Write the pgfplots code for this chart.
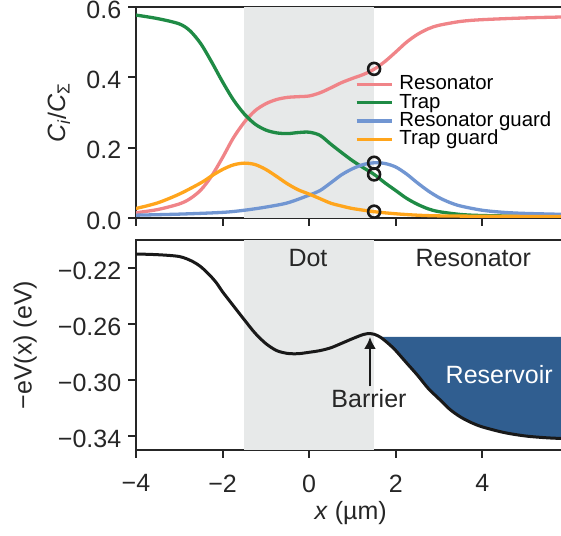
\documentclass[border=0pt]{standalone}
\usepackage{fontspec}
\setmainfont{Liberation Sans}
\usepackage{pgfplots}
\pgfplotsset{compat=1.18}
\usetikzlibrary{arrows.meta}

\definecolor{cres}{HTML}{F08488}
\definecolor{ctrap}{HTML}{1F8B45}
\definecolor{crg}{HTML}{7196D2}
\definecolor{ctg}{HTML}{FFA51C}
\definecolor{cfill}{HTML}{305E90}
\definecolor{cshade}{HTML}{E7E9E9}
\definecolor{cax}{HTML}{262626}

\newcommand{\bigf}{\fontsize{12.5}{15}\selectfont}
\newcommand{\legf}{\fontsize{10.2}{11}\selectfont}

\pgfplotsset{
  myaxis/.style={
    scale only axis, width=216.45pt,
    xmin=-4, xmax=6,
    xtick={-4,-2,0,2,4},
    tick align=outside, major tick length=3.85pt,
    xtick pos=left, ytick pos=left,
    axis line style={cax, line width=1pt},
    every tick/.style={cax, line width=1pt},
    tick label style={font=\bigf, text=cax},
    yticklabel style={yshift=-1.3pt},
    xticklabel style={yshift=-5pt},
    label style={font=\bigf, text=cax},
  }
}

\begin{document}
\begin{tikzpicture}
% ---------------- top axis ----------------
\begin{axis}[myaxis,
  at={(0pt,116pt)}, anchor=south west,
  height=105.5pt,
  ymin=0, ymax=0.6,
  ytick={0,0.2,0.4,0.6}, yticklabels={0.0,0.2,0.4,0.6},
  xticklabels={},
  ylabel={\textit{C}\textsubscript{\textit{i}}/\textit{C}\textsubscript{Σ}},
  ylabel style={at={(axis description cs:-0.178,0.5)}, anchor=center},
  legend style={at={(axis description cs:0.506,0.677)}, anchor=north west,
    draw=none, fill=none, font=\legf, inner sep=0pt, outer sep=0pt,
    row sep=0pt, column sep=3pt,
    nodes={inner sep=0pt, text height=7.4pt, text depth=1.75pt},
    cells={anchor=west}},
  legend image code/.code={\draw[#1] (0pt,0pt) -- (17.5pt,0pt);},
]
\addplot[fill=cshade, draw=none, forget plot] coordinates {(-1.5,0) (1.5,0) (1.5,0.6) (-1.5,0.6)};

\addplot[cres, line width=1.65pt, smooth] coordinates {
(-4.0,0.015) (-3.5,0.024) (-3.0,0.040) (-2.75,0.055) (-2.5,0.080) (-2.25,0.120)
(-2.0,0.172) (-1.75,0.228) (-1.5,0.272) (-1.25,0.305) (-1.0,0.325) (-0.75,0.337)
(-0.5,0.343) (-0.25,0.345) (0.0,0.347) (0.25,0.356) (0.5,0.370) (0.75,0.385)
(1.0,0.397) (1.25,0.408) (1.5,0.423) (1.75,0.445) (2.0,0.472) (2.25,0.500)
(2.5,0.522) (2.75,0.538) (3.0,0.548) (3.5,0.559) (4.0,0.564) (5.0,0.569) (6.0,0.572)};

\addplot[ctrap, line width=1.65pt, smooth] coordinates {
(-4.0,0.577) (-3.5,0.567) (-3.0,0.552) (-2.75,0.532) (-2.5,0.495) (-2.25,0.443)
(-2.0,0.387) (-1.75,0.336) (-1.5,0.296) (-1.25,0.267) (-1.0,0.250) (-0.75,0.242)
(-0.5,0.240) (-0.25,0.243) (0.0,0.244) (0.25,0.235) (0.5,0.210) (0.75,0.186)
(1.0,0.163) (1.25,0.143) (1.5,0.124) (1.75,0.100) (2.0,0.078) (2.25,0.056)
(2.5,0.039) (2.75,0.026) (3.0,0.018) (3.5,0.010) (4.0,0.007) (5.0,0.005) (6.0,0.004)};

\addplot[crg, line width=1.65pt, smooth] coordinates {
(-4.0,0.008) (-3.0,0.011) (-2.0,0.016) (-1.5,0.022) (-1.0,0.031) (-0.5,0.043)
(0.0,0.065) (0.25,0.078) (0.5,0.100) (0.75,0.123) (1.0,0.140) (1.25,0.152)
(1.5,0.157) (1.75,0.155) (2.0,0.145) (2.25,0.125) (2.5,0.100) (2.75,0.077)
(3.0,0.058) (3.25,0.044) (3.5,0.034) (4.0,0.022) (4.5,0.016) (5.0,0.013) (6.0,0.010)};

\addplot[ctg, line width=1.65pt, smooth] coordinates {
(-4.0,0.027) (-3.5,0.043) (-3.0,0.068) (-2.5,0.100) (-2.25,0.120) (-2.0,0.138)
(-1.75,0.151) (-1.5,0.156) (-1.25,0.152) (-1.0,0.138) (-0.75,0.118) (-0.5,0.097)
(-0.25,0.080) (0.0,0.068) (0.25,0.055) (0.5,0.042) (0.75,0.034) (1.0,0.027)
(1.5,0.018) (2.0,0.012) (2.5,0.008) (3.0,0.006) (4.0,0.005) (6.0,0.004)};

\addplot[only marks, mark=o, mark size=3pt, mark options={line width=1.3pt, draw=black!90}, forget plot]
coordinates {(1.5,0.424) (1.5,0.157) (1.5,0.124) (1.5,0.018)};

\legend{Resonator, Trap, Resonator guard, Trap guard}
\end{axis}

% ---------------- bottom axis ----------------
\begin{axis}[myaxis,
  at={(0pt,0pt)}, anchor=south west,
  height=105pt,
  ymin=-0.35, ymax=-0.20,
  ytick={-0.34,-0.30,-0.26,-0.22}, yticklabels={−0.34,−0.30,−0.26,−0.22},
  xticklabels={−4,−2,0,2,4},
  ylabel={−eV(x) (eV)},
  ylabel style={at={(axis description cs:-0.256,0.5)}, anchor=center},
  xlabel={\textit{x} (µm)},
  xlabel style={at={(axis description cs:0.496,-0.30)}, anchor=center},
]
\addplot[fill=cshade, draw=none] coordinates {(-1.5,-0.35) (1.5,-0.35) (1.5,-0.20) (-1.5,-0.20)};

\addplot[fill=cfill, draw=none] coordinates {
(1.64,-0.2692) (1.65,-0.2695) (1.85,-0.2745) (2.0,-0.2790) (2.25,-0.2878) (2.5,-0.2965)
(2.75,-0.3060) (3.0,-0.3135) (3.25,-0.3210) (3.5,-0.3265) (3.75,-0.3305) (4.0,-0.3335)
(4.5,-0.3375) (5.0,-0.3400) (5.5,-0.3413) (6.0,-0.3420) (6.0,-0.2692)};

\addplot[black!90, line width=1.5pt, smooth] coordinates {
(-4.0,-0.2100) (-3.5,-0.2105) (-3.0,-0.2118) (-2.7,-0.2152) (-2.5,-0.2192)
(-2.3,-0.2250) (-2.14,-0.2307) (-2.0,-0.2370) (-1.75,-0.2470) (-1.5,-0.2569)
(-1.25,-0.2665) (-1.0,-0.2740) (-0.75,-0.2790) (-0.5,-0.2810) (-0.25,-0.2812)
(0.0,-0.2802) (0.25,-0.2790) (0.5,-0.2770) (0.75,-0.2738) (1.0,-0.2705)
(1.25,-0.2675) (1.4,-0.2668) (1.5,-0.2673) (1.65,-0.2695) (1.85,-0.2745)
(2.0,-0.2790) (2.25,-0.2878) (2.5,-0.2965) (2.75,-0.3060) (3.0,-0.3135)
(3.25,-0.3210) (3.5,-0.3265) (3.75,-0.3305) (4.0,-0.3335) (4.5,-0.3375)
(5.0,-0.3400) (5.5,-0.3413) (6.0,-0.3420)};

\node[font=\bigf, text=cax] at (axis cs:-0.027,-0.2132) {Dot};
\node[font=\bigf, text=cax] at (axis cs:3.79,-0.2127) {Resonator};
\node[font=\bigf, text=white] at (axis cs:4.39,-0.2963) {Reservoir};
\node[font=\bigf, text=cax] at (axis cs:1.382,-0.3134) {Barrier};
\draw[black!90, line width=1.3pt, -{Latex[length=6pt,width=6pt]}] (axis cs:1.405,-0.3045) -- (axis cs:1.405,-0.2692);
\end{axis}

\pgfresetboundingbox
\path[use as bounding box] (-68pt,-42.5pt) rectangle (212.5pt,225pt);
\end{tikzpicture}
\end{document}
